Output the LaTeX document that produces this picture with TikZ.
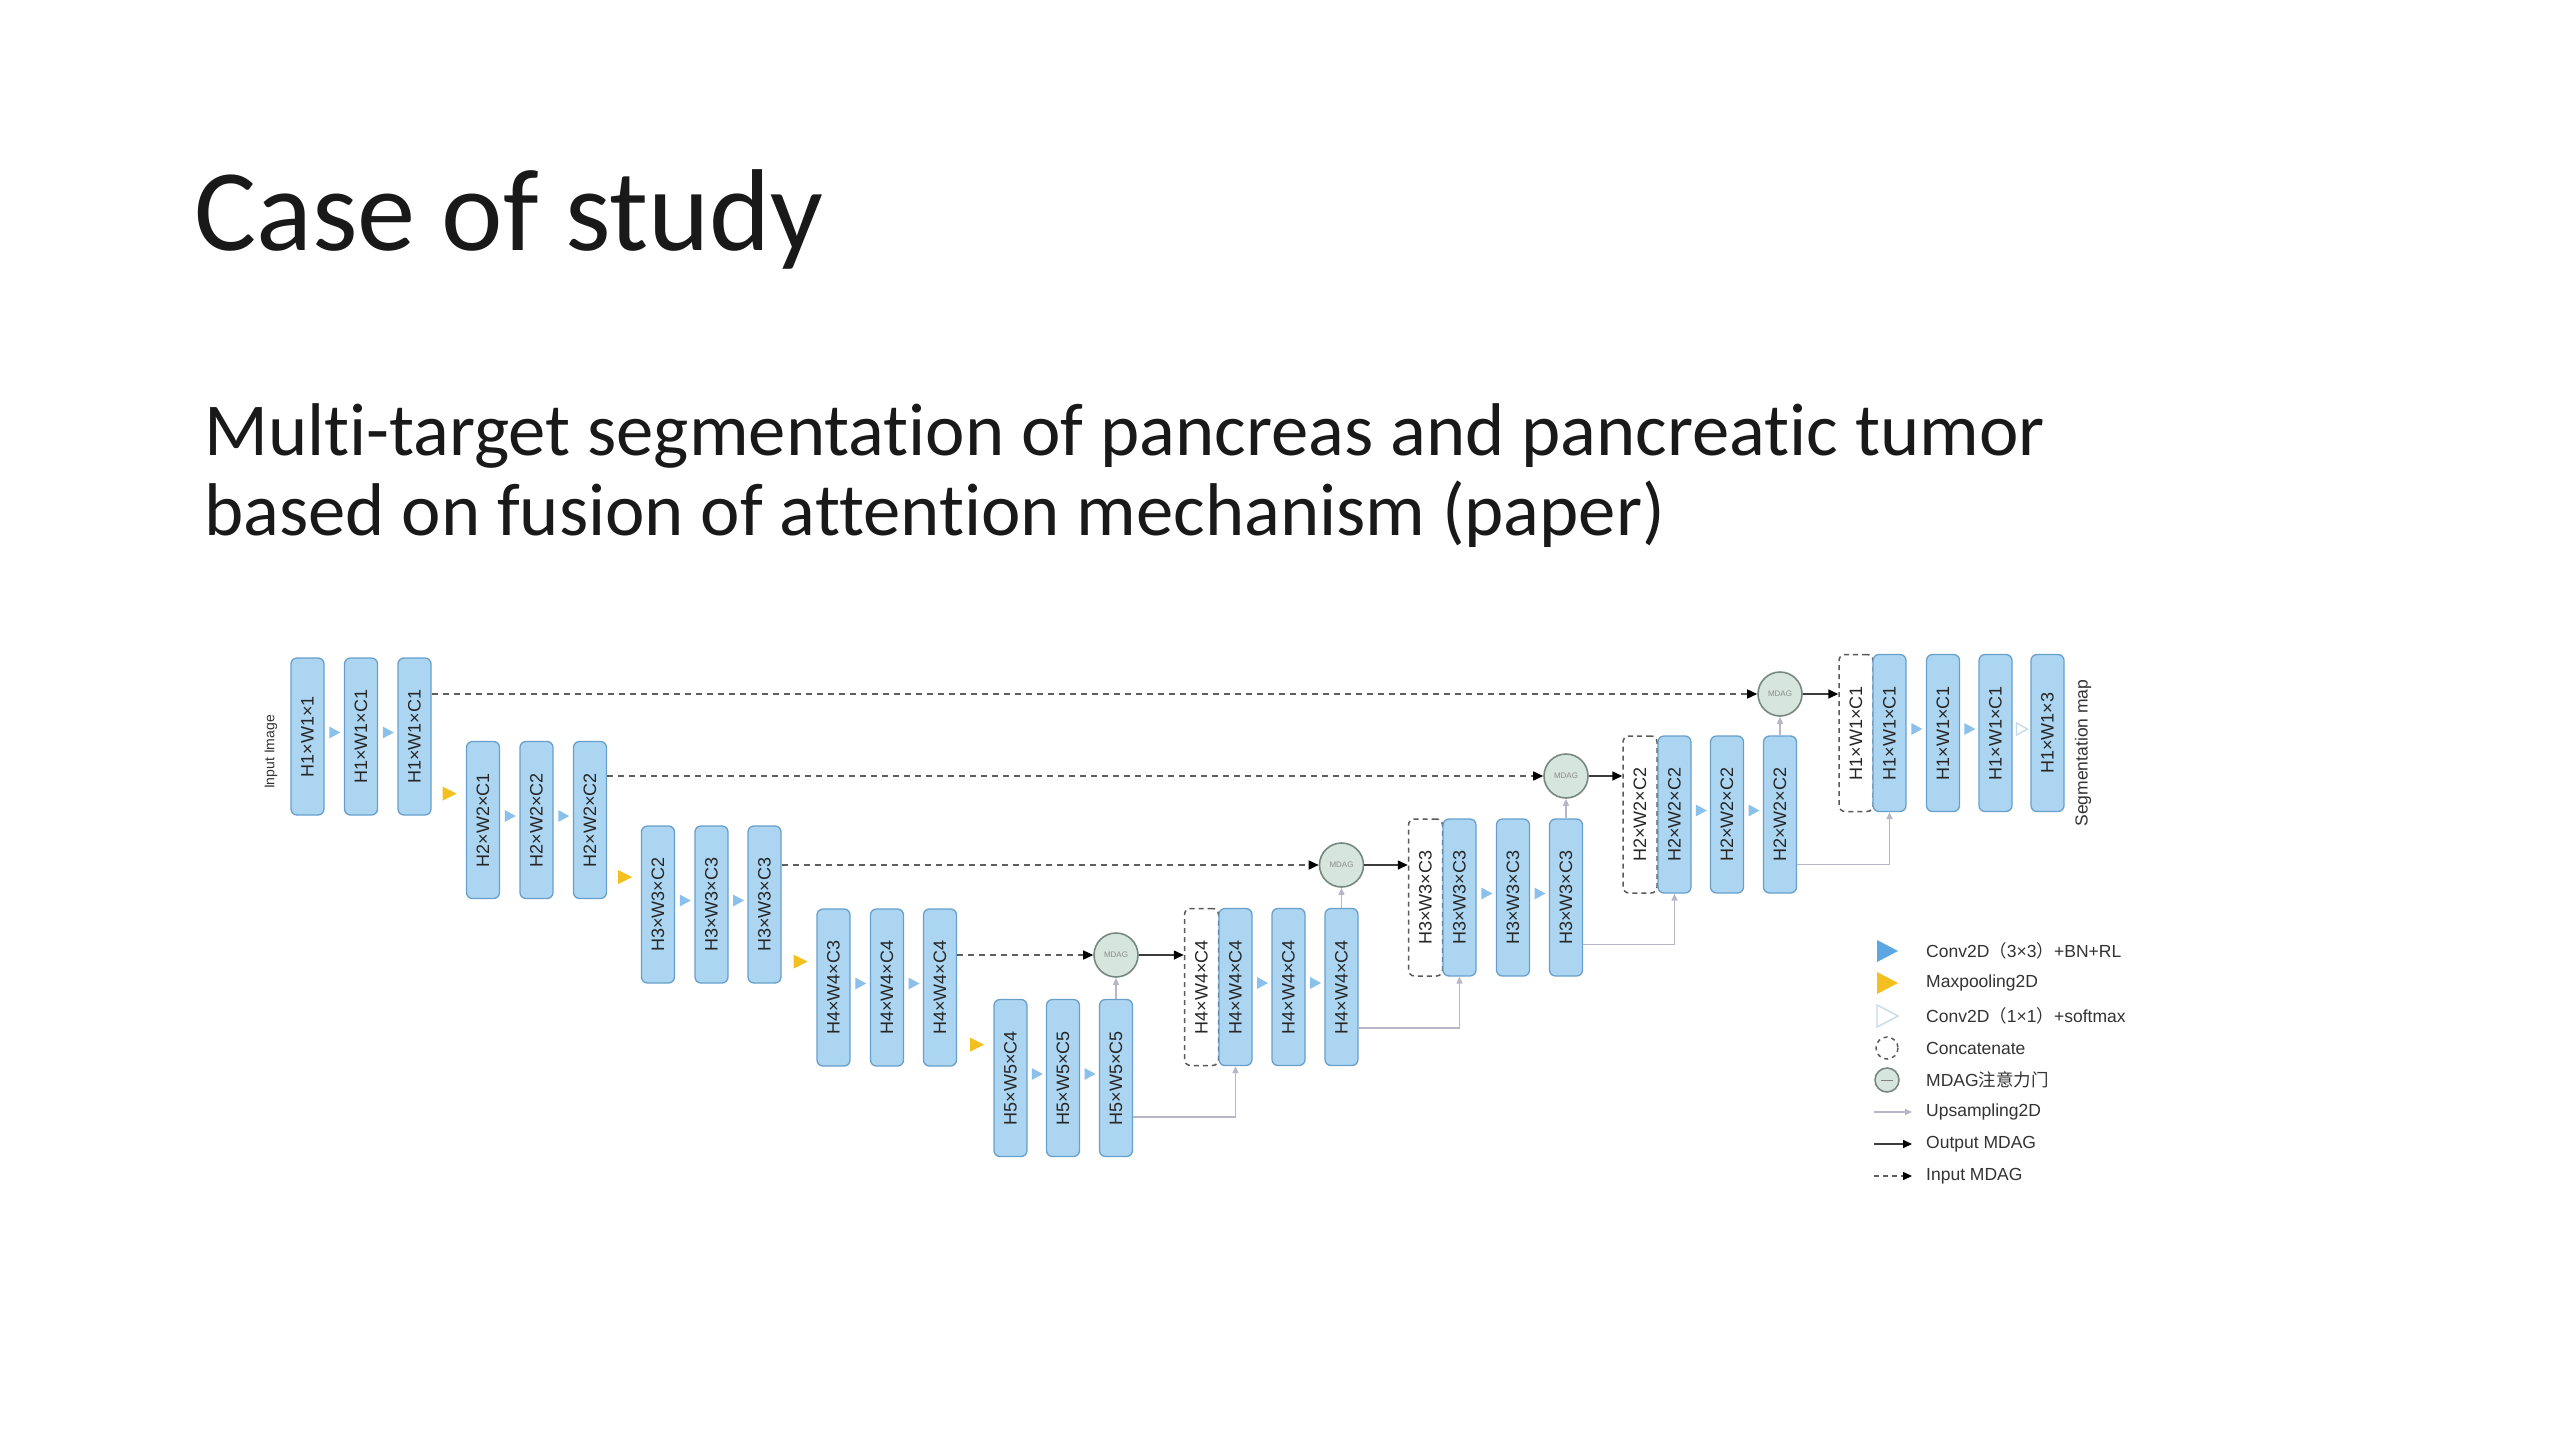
\documentclass[tikz,border=0pt]{standalone}
\usepackage{fontspec}
\usepackage{graphicx}
\setmainfont{Liberation Sans}
\newfontfamily\titlefont{Carlito}[Ligatures={NoCommon}]
\newfontfamily\cjkfont{Noto Sans CJK SC}
\usetikzlibrary{arrows.meta,calc}
\definecolor{blkfill}{RGB}{172,213,241}
\definecolor{blkdraw}{RGB}{104,160,205}
\definecolor{convfill}{RGB}{138,192,233}
\definecolor{poolfill}{RGB}{243,192,32}
\definecolor{legblue}{RGB}{92,166,226}
\definecolor{mdagfill}{RGB}{214,229,222}
\definecolor{mdagdraw}{RGB}{118,136,128}
\definecolor{upcol}{RGB}{184,182,198}
\definecolor{skipcol}{RGB}{95,95,95}
\definecolor{outcol}{RGB}{60,60,60}
\definecolor{catdraw}{RGB}{90,90,90}
\definecolor{holcol}{RGB}{196,218,234}
\definecolor{titlecol}{RGB}{25,25,25}
\newcommand{\rt}[1]{\rotatebox{90}{#1}}
\newcommand{\convtri}[3]{%
  \path ($(#1.east)!0.5!(#2.west)$) coordinate (tmpc);
  \filldraw[#3] ([shift={(-5,-10)}]tmpc) -- ([shift={(6,-4)}]tmpc) -- ([shift={(-5,2)}]tmpc) -- cycle;}
\newcommand{\pooltri}[2]{%
  \path ([xshift=#2pt,yshift=22pt]#1.south east) coordinate (tmpp);
  \fill[poolfill] ([shift={(-6,-7)}]tmpp) -- ([shift={(8,0)}]tmpp) -- ([shift={(-6,7)}]tmpp) -- cycle;}
\begin{document}
\begin{tikzpicture}[x=1pt,y=-1pt,
  blk/.style={draw=blkdraw, fill=blkfill, rounded corners=6pt, minimum width=33pt, minimum height=157pt, inner sep=0pt, line width=1.3pt, font=\fontsize{18}{18}\selectfont, text=black!85},
  catblk/.style={draw=catdraw, fill=white, dash pattern=on 5pt off 4pt, rounded corners=6pt, minimum width=34pt, minimum height=157pt, inner sep=0pt, line width=1.5pt, font=\fontsize{18}{18}\selectfont, text=black!85},
  mdag/.style={circle, minimum size=44pt, inner sep=0pt, fill=mdagfill, draw=mdagdraw, line width=1.6pt, font=\fontsize{8}{8}\selectfont, text=black!45},
  skip/.style={draw=skipcol, line width=1.5pt, dash pattern=on 6pt off 5pt, -{Triangle[length=10pt,width=9pt,color=black]}},
  outarr/.style={draw=outcol, line width=1.6pt, -{Triangle[length=10pt,width=9pt,color=black]}},
  uparr/.style={draw=upcol, line width=1.4pt, -{Triangle[length=7pt,width=6pt]}},
  conv/.style={fill=convfill, draw=none},
  hollow/.style={fill=white, draw=holcol, line width=1.3pt},
  legtxt/.style={anchor=west, inner sep=0pt, font=\fontsize{17.5}{17.5}\selectfont, text=black!80}
]
\fill[white] (0,0) rectangle (2560,1440);
\path[use as bounding box] (0,0) rectangle (2560,1440);

% titles
\node[anchor=base west, inner sep=0pt, font=\titlefont\fontsize{116.5}{116.5}\selectfont, text=titlecol] (title) at (194,250) {Case of study};
\node[anchor=base west, inner sep=0pt, font=\titlefont\fontsize{74.7}{74.7}\selectfont, text=titlecol] (sub1) at (204,455) {Multi-target segmentation of pancreas and pancreatic tumor};
\node[anchor=base west, inner sep=0pt, font=\titlefont\fontsize{74.7}{74.7}\selectfont, text=titlecol] (sub2) at (204,535) {based on fusion of attention mechanism (paper)};

% encoder
\node[blk] (e11) at (307.5,736.5) {\rt{H1×W1×1}};
\node[blk] (e12) at (361,736.5) {\rt{H1×W1×C1}};
\node[blk] (e13) at (414.5,736.5) {\rt{H1×W1×C1}};
\node[blk] (e21) at (483,820) {\rt{H2×W2×C1}};
\node[blk] (e22) at (536.5,820) {\rt{H2×W2×C2}};
\node[blk] (e23) at (590,820) {\rt{H2×W2×C2}};
\node[blk] (e31) at (658,904.5) {\rt{H3×W3×C2}};
\node[blk] (e32) at (711.5,904.5) {\rt{H3×W3×C3}};
\node[blk] (e33) at (764.5,904.5) {\rt{H3×W3×C3}};
\node[blk] (e41) at (833.5,987.5) {\rt{H4×W4×C3}};
\node[blk] (e42) at (887,987.5) {\rt{H4×W4×C4}};
\node[blk] (e43) at (940,987.5) {\rt{H4×W4×C4}};
\node[blk] (e51) at (1010.5,1078) {\rt{H5×W5×C4}};
\node[blk] (e52) at (1063,1078) {\rt{H5×W5×C5}};
\node[blk] (e53) at (1116,1078) {\rt{H5×W5×C5}};

% decoder
\node[catblk] (d41) at (1201.5,987) {\rt{H4×W4×C4}};
\node[blk] (d42) at (1235.5,987) {\rt{H4×W4×C4}};
\node[blk] (d43) at (1288.5,987) {\rt{H4×W4×C4}};
\node[blk] (d44) at (1341.5,987) {\rt{H4×W4×C4}};
\node[catblk] (d31) at (1425.5,897.5) {\rt{H3×W3×C3}};
\node[blk] (d32) at (1459.5,897.5) {\rt{H3×W3×C3}};
\node[blk] (d33) at (1513,897.5) {\rt{H3×W3×C3}};
\node[blk] (d34) at (1566,897.5) {\rt{H3×W3×C3}};
\node[catblk] (d21) at (1640,814.5) {\rt{H2×W2×C2}};
\node[blk] (d22) at (1674.5,814.5) {\rt{H2×W2×C2}};
\node[blk] (d23) at (1727,814.5) {\rt{H2×W2×C2}};
\node[blk] (d24) at (1780,814.5) {\rt{H2×W2×C2}};
\node[catblk] (d11) at (1856,733) {\rt{H1×W1×C1}};
\node[blk] (d12) at (1889.5,733) {\rt{H1×W1×C1}};
\node[blk] (d13) at (1943,733) {\rt{H1×W1×C1}};
\node[blk] (d14) at (1995.5,733) {\rt{H1×W1×C1}};
\node[blk] (d15) at (2047.5,733) {\rt{H1×W1×3}};

% side labels
\node[inner sep=0pt, font=\fontsize{14}{14}\selectfont, text=black!80] (inlab) at (271,752) {\rt{Input Image}};
\node[inner sep=0pt, font=\fontsize{17.5}{17.5}\selectfont, text=black!80] (seglab) at (2083,753) {\rt{Segmentation map}};

% MDAG gates
\node[mdag] (m1) at (1780,694) {MDAG};
\node[mdag] (m2) at (1566,776) {MDAG};
\node[mdag] (m3) at (1341.5,865) {MDAG};
\node[mdag] (m4) at (1116,955) {MDAG};

% skip connections (input MDAG)
\draw[skip] (e13.east |- m1.west) -- (m1.west);
\draw[skip] (e23.east |- m2.west) -- (m2.west);
\draw[skip] (e33.east |- m3.west) -- (m3.west);
\draw[skip] (e43.east |- m4.west) -- (m4.west);

% output MDAG
\draw[outarr] (m1.east) -- (d11.west |- m1.east);
\draw[outarr] (m2.east) -- (d21.west |- m2.east);
\draw[outarr] (m3.east) -- (d31.west |- m3.east);
\draw[outarr] (m4.east) -- (d41.west |- m4.east);

% gating inputs
\draw[uparr] (e53.north) -- (m4.south);
\draw[uparr] (d44.north) -- (m3.south);
\draw[uparr] (d34.north) -- (m2.south);
\draw[uparr] (d24.north) -- (m1.south);

% upsampling
\draw[uparr] ([yshift=40pt]e53.south east) -| (d42.south);
\draw[uparr] ([yshift=38pt]d44.south east) -| (d32.south);
\draw[uparr] ([yshift=32pt]d34.south east) -| (d22.south);
\draw[uparr] ([yshift=29pt]d24.south east) -| (d12.south);

% conv arrows
\convtri{e11}{e12}{conv}\convtri{e12}{e13}{conv}
\convtri{e21}{e22}{conv}\convtri{e22}{e23}{conv}
\convtri{e31}{e32}{conv}\convtri{e32}{e33}{conv}
\convtri{e41}{e42}{conv}\convtri{e42}{e43}{conv}
\convtri{e51}{e52}{conv}\convtri{e52}{e53}{conv}
\convtri{d42}{d43}{conv}\convtri{d43}{d44}{conv}
\convtri{d32}{d33}{conv}\convtri{d33}{d34}{conv}
\convtri{d22}{d23}{conv}\convtri{d23}{d24}{conv}
\convtri{d12}{d13}{conv}\convtri{d13}{d14}{conv}
\convtri{d14}{d15}{hollow}

% maxpool arrows
\pooltri{e13}{17}
\pooltri{e23}{17}
\pooltri{e33}{18}
\pooltri{e43}{19}

% legend
\fill[legblue] (1877,940) -- (1898,951) -- (1877,962) -- cycle;
\fill[poolfill] (1877,972) -- (1898,983) -- (1877,994) -- cycle;
\filldraw[hollow] (1877,1005) -- (1898,1016) -- (1877,1027) -- cycle;
\draw[draw=catdraw, line width=1.5pt, dash pattern=on 4pt off 4pt] (1887,1048) circle[radius=11];
\filldraw[fill=mdagfill, draw=mdagdraw, line width=1.6pt] (1887,1080) circle[radius=12];
\draw[black!50, line width=1pt] (1881,1080) -- (1893,1080);
\draw[uparr] (1874,1112) -- (1912,1112);
\draw[draw=outcol, line width=1.6pt, -{Triangle[length=9pt,width=8pt,color=black]}] (1874,1144) -- (1912,1144);
\draw[draw=skipcol, line width=1.5pt, dash pattern=on 5pt off 4pt, -{Triangle[length=9pt,width=8pt,color=black]}] (1874,1176) -- (1912,1176);
\node[legtxt] (l1) at (1926,951) {Conv2D{\cjkfont（}3×3{\cjkfont）}+BN+RL};
\node[legtxt] (l2) at (1926,983) {Maxpooling2D};
\node[legtxt] (l3) at (1926,1016) {Conv2D{\cjkfont（}1×1{\cjkfont）}+softmax};
\node[legtxt] (l4) at (1926,1048) {Concatenate};
\node[legtxt] (l5) at (1926,1080) {MDAG{\cjkfont 注意力门}};
\node[legtxt] (l6) at (1926,1112) {Upsampling2D};
\node[legtxt] (l7) at (1926,1144) {Output MDAG};
\node[legtxt] (l8) at (1926,1176) {Input MDAG};
\end{tikzpicture}
\end{document}
